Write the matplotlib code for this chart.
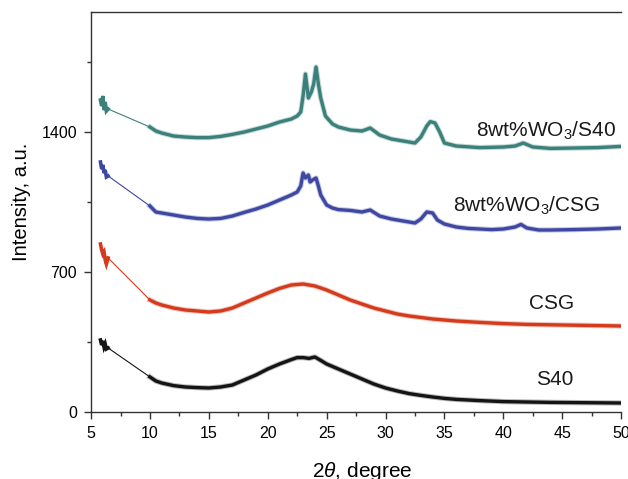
import numpy as np
import matplotlib
matplotlib.use("Agg")
import matplotlib.pyplot as plt

plt.rcParams['font.family'] = ['Liberation Sans', 'DejaVu Sans']
plt.rcParams['mathtext.fontset'] = 'custom'
plt.rcParams['mathtext.rm'] = 'Liberation Sans'
plt.rcParams['mathtext.it'] = 'Liberation Sans:italic'

# values (2theta in degree, intensity in a.u.)
x_s40 = [5.8, 5.9, 6.0, 6.1, 6.2, 6.3, 6.45,
         10.0, 10.5, 11, 12, 13, 14, 15, 16, 17, 18, 19, 20, 21, 22, 22.5, 23,
         23.5, 24, 24.5, 25, 26, 27, 28, 29, 30, 31, 32, 33, 34, 35, 36, 38, 40,
         42, 44, 46, 48, 50]
y_s40 = [360, 335, 355, 325, 340, 315, 320,
         175, 155, 145, 132, 125, 122, 120, 125, 135, 160, 185, 215, 240, 262,
         272, 272, 268, 275, 258, 240, 215, 190, 165, 140, 120, 105, 92, 83, 75,
         68, 63, 57, 52, 50, 48, 47, 46, 45]

x_csg = [5.8, 5.9, 6.0, 6.1, 6.2, 6.3, 6.45,
         10, 10.5, 11, 12, 13, 14, 15, 16, 17, 18, 19, 20, 21, 22, 23, 24, 25,
         26, 27, 28, 29, 30, 31, 32, 34, 36, 38, 40, 42, 44, 46, 48, 50]
y_csg = [840, 810, 790, 800, 760, 740, 770,
         560, 545, 535, 520, 510, 505, 500, 505, 520, 545, 570, 595, 618, 635,
         640, 630, 610, 585, 560, 540, 520, 505, 490, 480, 465, 455, 448, 442,
         438, 436, 434, 432, 430]

x_wcsg = [5.8, 5.9, 6.0, 6.1, 6.2, 6.3, 6.45,
          10, 10.5, 11, 12, 13, 14, 15, 16, 17, 18, 19, 20, 21, 22, 22.5, 22.8,
          23.0, 23.2, 23.45, 23.6, 23.8, 24.1, 24.3, 24.5, 25, 25.5, 26, 27, 28,
          28.7, 29.5, 30.5, 31.5, 32.5, 33.0, 33.5, 34.0, 34.4, 35, 36, 37, 38,
          39, 40, 41, 41.5, 42, 43, 44, 46, 48, 50]
y_wcsg = [1250, 1215, 1235, 1195, 1210, 1175, 1180,
          1030, 1000, 995, 985, 975, 968, 965, 968, 980, 998, 1015, 1035, 1060,
          1085, 1100, 1130, 1195, 1170, 1185, 1150, 1160, 1170, 1130, 1085,
          1035, 1020, 1012, 1008, 1000, 1010, 980, 965, 955, 945, 965, 1000,
          995, 960, 940, 925, 918, 915, 912, 915, 925, 938, 920, 910, 910, 912,
          915, 920]

x_ws40 = [5.8, 5.9, 6.0, 6.1, 6.2, 6.3, 6.45,
          10, 10.5, 11, 12, 13, 14, 15, 16, 17, 18, 19, 20, 21, 22, 22.5, 22.8,
          23.0, 23.2, 23.45, 23.7, 23.9, 24.1, 24.3, 24.5, 24.9, 25.5, 26, 27,
          28, 28.7, 29.5, 30.5, 31.5, 32.5, 33.0, 33.5, 33.8, 34.2, 34.6, 35,
          36, 38, 40, 41, 41.7, 42.5, 44, 46, 48, 50]
y_ws40 = [1560, 1530, 1580, 1510, 1550, 1505, 1515,
          1425, 1405, 1395, 1380, 1375, 1372, 1372, 1378, 1388, 1400, 1415,
          1430, 1450, 1465, 1480, 1500, 1580, 1690, 1570, 1600, 1640, 1725,
          1640, 1570, 1480, 1440, 1425, 1410, 1405, 1420, 1385, 1365, 1355,
          1345, 1375, 1430, 1452, 1445, 1400, 1345, 1330, 1322, 1325, 1330,
          1345, 1325, 1318, 1320, 1322, 1328]

series = [
    (x_s40, y_s40, '#141414', 'S40', 44.4, 135),
    (x_csg, y_csg, '#d43a1c', 'CSG', 44.1, 515),
    (x_wcsg, y_wcsg, '#3e48a3', '8wt%WO$_{\\mathregular{3}}$/CSG', 42.0, 1000),
    (x_ws40, y_ws40, '#3b807b', '8wt%WO$_{\\mathregular{3}}$/S40', 43.6, 1375),
]

fig = plt.figure(figsize=(6.28, 4.79), dpi=100)
ax = fig.add_axes([0.145, 0.1399, 0.844, 0.835])

for xs, ys, col, name, tx, ty in series:
    xs = np.array(xs)
    ys = np.array(ys)
    # thin connecting line over the whole scan
    ax.plot(xs, ys, color=col, lw=0.8)
    # noisy parts drawn as a thick band
    a = xs < 7
    b = xs >= 10
    ax.plot(xs[a], ys[a], color=col, lw=2.6, solid_joinstyle='miter')
    ax.plot(xs[b], ys[b], color=col, lw=3.8, alpha=0.3)
    ax.plot(xs[b], ys[b], color=col, lw=2.4)
    ax.text(tx, ty, name, fontsize=15, ha='center', va='baseline',
            color='#1a1a1a')

ax.set_xlim(5, 50)
ax.set_ylim(0, 2000)
ax.set_xticks(np.arange(5, 51, 5))
ax.set_xticks(np.arange(7.5, 50, 5), minor=True)
ax.set_yticks([0, 700, 1400])
ax.set_yticks([350, 1050, 1750], minor=True)

for s in ['left', 'bottom', 'top']:
    ax.spines[s].set_color('#333333')
    ax.spines[s].set_linewidth(1.0)
ax.spines['right'].set_visible(False)

ax.tick_params(which='major', direction='out', length=5, width=1,
               color='#333333', labelsize=11.5, pad=5)
ax.tick_params(which='minor', direction='out', length=3, width=1,
               color='#333333')

ax.set_xlabel('2$\\it{\\theta}$, degree', fontsize=15)
ax.set_ylabel('Intensity, a.u.', fontsize=14.5)
ax.xaxis.set_label_coords(0.511, -0.12)
ax.yaxis.set_label_coords(-0.113, 0.525)

fig.savefig('out.png', dpi=100)
